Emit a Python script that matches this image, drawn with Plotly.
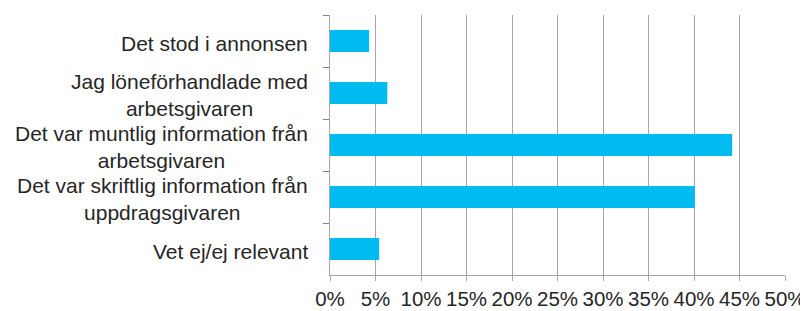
import plotly.graph_objects as go

categories = [
    "Det stod i annonsen",
    "Jag löneförhandlade med<br>arbetsgivaren",
    "Det var muntlig information från<br>arbetsgivaren",
    "Det var skriftlig information från<br>uppdragsgivaren",
    "Vet ej/ej relevant",
]
values = [4.3, 6.3, 44.2, 40.1, 5.4]
x_ticks = [0, 5, 10, 15, 20, 25, 30, 35, 40, 45, 50]
x_tick_labels = [f"{t}%" for t in x_ticks]

FONT = "Liberation Sans, Arial, sans-serif"
TEXT = "#262626"
GRID = "#A6A6A6"

fig = go.Figure(
    go.Bar(
        x=values,
        y=categories,
        orientation="h",
        marker=dict(color="#00BBF0", line=dict(width=0)),
        width=0.42,
    )
)

for cat in categories:
    fig.add_annotation(
        text=cat,
        xref="paper",
        x=0,
        xshift=-20,
        xanchor="right",
        yref="y",
        y=cat,
        yshift=-2,
        yanchor="middle",
        align="center",
        showarrow=False,
        font=dict(family=FONT, size=21, color=TEXT),
    )

# page body has an 8px margin, so the figure is drawn at (8, 8)
fig.update_layout(
    width=800,
    height=303,
    margin=dict(l=322, r=23, t=7, b=36),
    paper_bgcolor="white",
    plot_bgcolor="white",
    showlegend=False,
    font=dict(family=FONT, size=20, color=TEXT),
)

fig.update_xaxes(
    range=[0, 50],
    tickvals=x_ticks,
    ticktext=x_tick_labels,
    showgrid=True,
    gridcolor=GRID,
    gridwidth=1,
    showline=True,
    linecolor=GRID,
    ticks="outside",
    ticklen=5,
    tickcolor=GRID,
    tickfont=dict(size=20.5),
    zeroline=False,
    automargin=False,
)

fig.update_yaxes(
    autorange="reversed",
    showline=True,
    linecolor=GRID,
    linewidth=1,
    ticks="outside",
    tickson="boundaries",
    ticklen=6,
    tickcolor="#808080",
    showgrid=False,
    showticklabels=False,
    automargin=False,
)

fig.write_html("out.html")
